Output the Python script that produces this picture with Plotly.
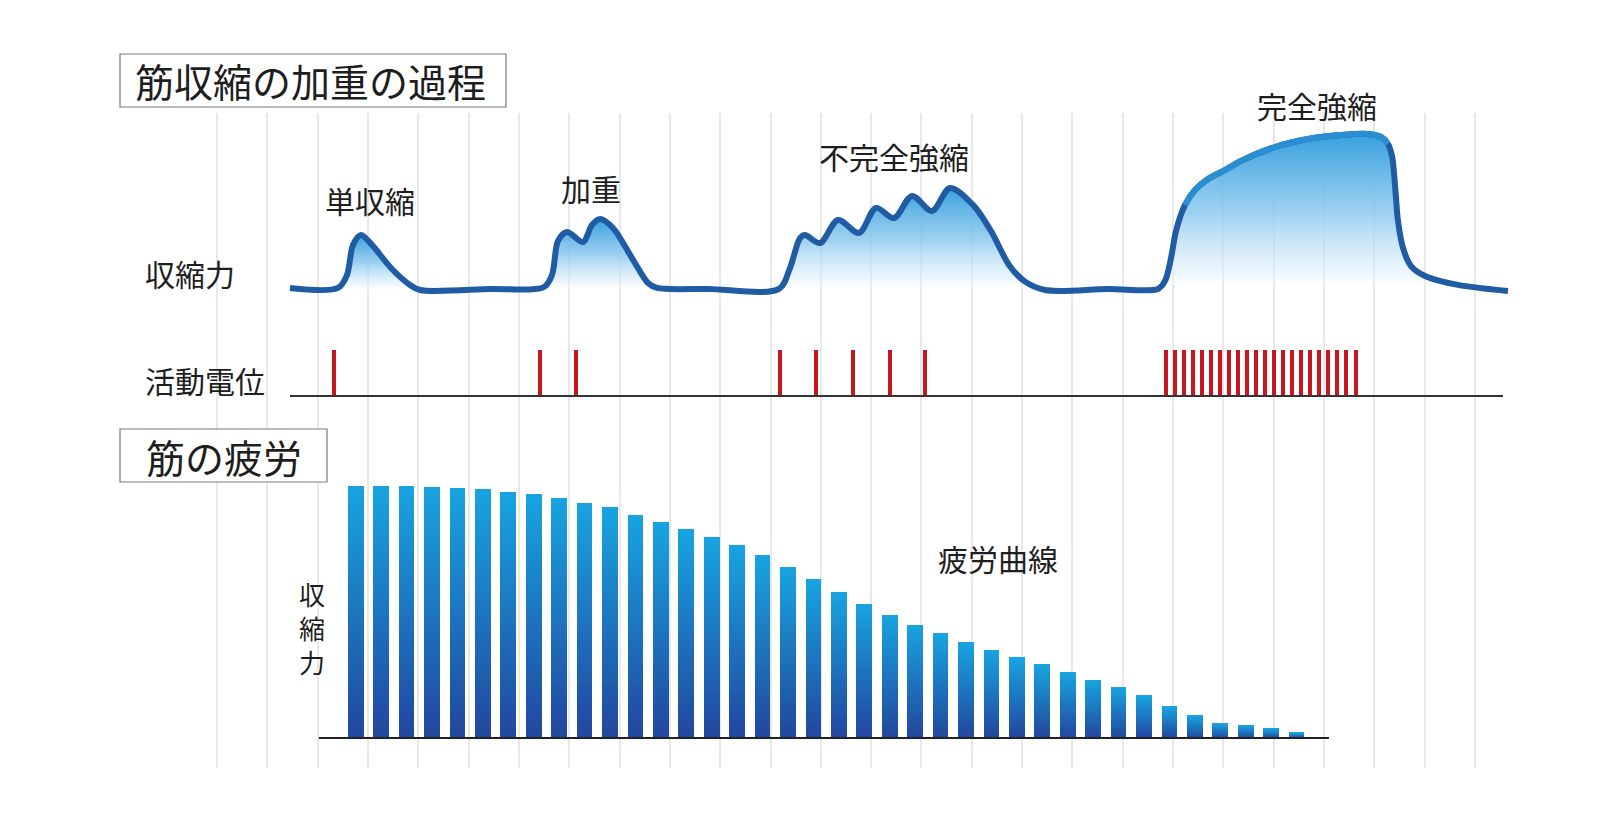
import plotly.graph_objects as go

W, H = 1600, 828
FONT = "Noto Sans CJK JP"

# ---------------- data ----------------
# Upper panel: contraction force trace (time in arbitrary units, force in % of tetanus)
curve_t = [0.0, 4.8, 5.7, 6.3, 7.1, 8.2, 10.1, 12.0, 13.0, 20.1,
           25.4, 26.2, 26.8, 27.7, 29.3, 30.2, 31.0, 32.3, 34.2, 35.8, 36.7,
           41.8, 48.9, 50.0, 51.0, 51.5, 53.0, 54.8, 56.9, 58.6, 60.4, 62.2,
           64.2, 66.0, 68.3, 70.1, 71.9, 73.4, 75.5, 81.8,
           86.8, 87.5, 88.1, 88.6, 89.5, 90.5, 91.8, 93.5, 95.1, 98.5, 101.8,
           105.1, 107.8, 109.1, 109.8, 110.2, 110.4, 110.6, 110.8, 111.3,
           112.1, 113.5, 116.8, 121.8]
curve_f = [1.9, 1.9, 10.0, 28.8, 35.0, 28.8, 14.4, 3.8, 0.6, 1.3,
           2.5, 10.0, 31.3, 36.9, 30.6, 41.3, 45.0, 39.4, 20.6, 5.0, 1.9,
           1.3, 1.3, 14.4, 33.1, 35.0, 30.0, 44.4, 36.3, 51.9, 45.6, 59.4,
           50.0, 64.4, 53.8, 37.5, 16.3, 6.3, 0.6, 1.3,
           1.3, 6.3, 20.6, 37.5, 53.8, 63.1, 70.0, 75.6, 81.3, 90.0, 95.0,
           97.5, 98.1, 96.3, 91.9, 84.4, 73.8, 58.1, 43.8, 26.9,
           15.6, 9.4, 3.8, 0.0]

# Action potentials (stimulus times)
spike_t = [4.4, 25.0, 28.6, 49.0, 52.6, 56.3, 60.0, 63.5,
           87.6, 88.5, 89.4, 90.3, 91.2, 92.1, 93.0, 93.9, 94.8, 95.7, 96.6,
           97.5, 98.4, 99.3, 100.2, 101.1, 102.0, 102.9, 103.8, 104.7, 105.6, 106.6]
spike_amp = [1.0] * len(spike_t)

# Contraction phases (time windows) and labels
phase_names = ["単収縮", "加重", "不完全強縮", "完全強縮"]
phase_windows = [(4.8, 13.0), (25.4, 36.7), (48.9, 75.5), (86.8, 121.8)]

# Lower panel: fatigue curve (contraction force per stimulus, %)
stim_no = list(range(1, 39))
fatigue = [100, 100, 100, 99.7, 99.3, 98.8, 97.8, 96.7, 95.4, 93.1,
           91.5, 88.5, 85.6, 83.1, 79.8, 76.6, 72.5, 67.9, 63.0, 58.1,
           53.1, 48.9, 45.0, 41.5, 38.0, 35.0, 32.0, 29.2, 26.0, 23.0,
           20.1, 16.9, 12.4, 8.9, 5.9, 5.0, 3.7, 2.2]

# ---------------- helpers for layout (pixel -> paper) ----------------
def px(x):
    return x / W

def py(y):
    return 1 - y / H

fig = go.Figure()

# curve fills (gradient per phase)
for (a, b) in phase_windows:
    xs = [t for t in curve_t if a <= t <= b]
    ys = [f for t, f in zip(curve_t, curve_f) if a <= t <= b]
    top = max(ys)
    fig.add_trace(go.Scatter(
        x=xs, y=ys, mode="lines", line=dict(width=0, shape="spline", smoothing=0.9),
        fill="tozeroy",
        fillgradient=dict(type="vertical", start=0, stop=top,
                          colorscale=[[0, "rgba(255,255,255,0)"],
                                      [0.12, "rgba(220,238,250,0.55)"],
                                      [0.5, "rgba(140,200,238,0.85)"],
                                      [1, "rgba(55,160,222,1)"]]),
        hoverinfo="skip", showlegend=False, xaxis="x", yaxis="y"))

# curve line
fig.add_trace(go.Scatter(
    x=curve_t, y=curve_f, mode="lines",
    line=dict(color="#1f5ca4", width=6, shape="spline", smoothing=0.9),
    showlegend=False, xaxis="x", yaxis="y"))

# lighter highlight on the plateau of the complete tetanus
hl = [(t, f) for t, f in zip(curve_t, curve_f) if 89.5 <= t <= 109.8]
fig.add_trace(go.Scatter(
    x=[p[0] for p in hl], y=[p[1] for p in hl], mode="lines",
    line=dict(color="#2a8fd2", width=6, shape="spline", smoothing=0.9),
    showlegend=False, hoverinfo="skip", xaxis="x", yaxis="y"))

# action potential spikes
fig.add_trace(go.Bar(
    x=spike_t, y=spike_amp, width=0.35, marker=dict(color="#c8161f", line=dict(width=0)),
    showlegend=False, xaxis="x", yaxis="y2"))

# fatigue bars with vertical gradient (stacked slices of each bar)
N = 30
c_bot = (34, 70, 158)
c_top = (24, 164, 224)
for k in range(N):
    f = (k + 0.5) / N
    col = "rgb(%d,%d,%d)" % tuple(round(c_bot[i] + (c_top[i] - c_bot[i]) * f) for i in range(3))
    fig.add_trace(go.Bar(
        x=stim_no, y=[v / N for v in fatigue], base=[v * k / N for v in fatigue],
        width=0.62, marker=dict(color=col, line=dict(width=0)),
        showlegend=False, hoverinfo="skip", xaxis="x3", yaxis="y3"))

# ---------------- axes ----------------
ydom = [py(760), py(105)]
grid_vals = [-7.3 + 5.032 * k for k in range(26)]
fig.update_layout(
    width=W, height=H, margin=dict(l=0, r=0, t=0, b=0),
    paper_bgcolor="white", plot_bgcolor="rgba(0,0,0,0)",
    barmode="overlay", bargap=0,
    xaxis=dict(domain=[0, 1], range=[-28.2, 131.8], anchor="y",
               showgrid=True, gridcolor="#e8e8e8", gridwidth=1.5,
               tickmode="array", tickvals=grid_vals, showticklabels=False,
               ticks="", zeroline=False, showline=False, fixedrange=True),
    yaxis=dict(domain=ydom, range=[(283 - 760) / 1.6, (283 - 105) / 1.6],
               visible=False, fixedrange=True),
    yaxis2=dict(overlaying="y", anchor="x", range=[(388 - 760) / 46, (388 - 105) / 46],
                visible=False, fixedrange=True),
    xaxis3=dict(overlaying="x", anchor="y3",
                range=[1 + (0 - 347.7) / 25.43, 1 + (1600 - 347.7) / 25.43],
                visible=False, fixedrange=True),
    yaxis3=dict(overlaying="y", anchor="x3", range=[(730 - 760) / 2.52, (730 - 105) / 2.52],
                visible=False, fixedrange=True),
)

shapes = []
# action potential baseline
shapes.append(dict(type="line", xref="x", yref="y2", x0=0, x1=121.3, y0=0, y1=0,
                   line=dict(color="#333333", width=2), layer="above"))
# fatigue baseline
shapes.append(dict(type="line", xref="x3", yref="y3", x0=-0.45, x1=39.27, y0=0, y1=0,
                   line=dict(color="#222222", width=2), layer="above"))
# title boxes
shapes.append(dict(type="rect", xref="paper", yref="paper",
                   x0=px(112), x1=px(498), y0=py(99), y1=py(46),
                   fillcolor="white", line=dict(color="#7a7a7a", width=1.2), layer="above"))
shapes.append(dict(type="rect", xref="paper", yref="paper",
                   x0=px(112), x1=px(319), y0=py(474), y1=py(421),
                   fillcolor="white", line=dict(color="#7a7a7a", width=1.2), layer="above"))
fig.update_layout(shapes=shapes)

def label(text, x, y, size=30):
    return dict(text=text, x=px(x), y=py(y), xref="paper", yref="paper",
                showarrow=False, xanchor="center", yanchor="middle",
                font=dict(family=FONT, size=size, color="#1e1e1e"))

ann = [
    label("筋収縮の加重の過程", 302, 72, 39),
    label("筋の疲労", 216, 448, 39),
    label(phase_names[0], 362, 192),
    label(phase_names[1], 583, 180),
    label(phase_names[2], 886, 148),
    label(phase_names[3], 1309, 97),
    label("収縮力", 182, 265),
    label("活動電位", 197, 372),
    label("疲労曲線", 990, 550),
    label("収<br>縮<br>力", 304, 619, 26),
]
fig.update_layout(annotations=ann)

fig.write_html("out.html")
